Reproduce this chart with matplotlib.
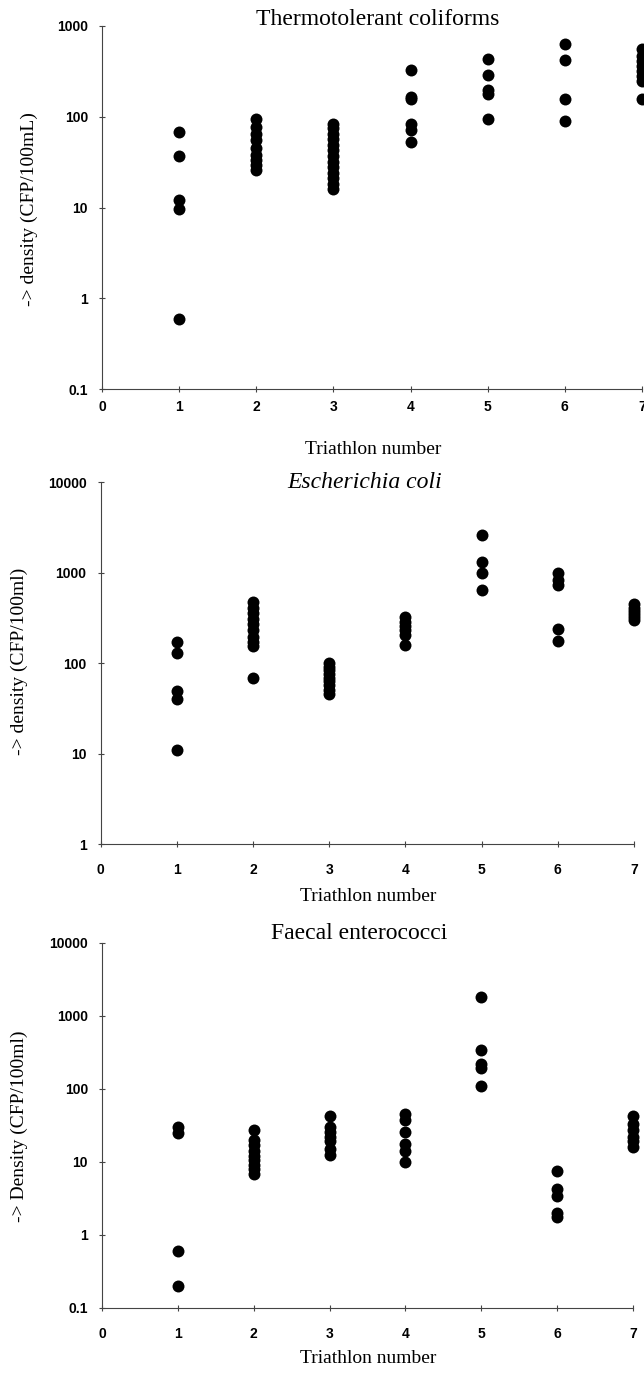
import matplotlib
matplotlib.use("Agg")
import matplotlib.pyplot as plt
from matplotlib.ticker import NullLocator

# ---------------- data ----------------
triathlon = [1, 2, 3, 4, 5, 6, 7]
x_ticks = [0, 1, 2, 3, 4, 5, 6, 7]

# Thermotolerant coliforms (CFP/100mL), one list per triathlon
thermo = [
    [67, 37, 12, 9.6, 0.6],
    [95, 77, 65, 55, 45, 38, 33, 29, 26],
    [83, 74, 64, 56, 49, 43, 37, 32, 28, 24, 21, 18, 16],
    [323, 166, 155, 83, 71, 53],
    [427, 289, 196, 177, 95],
    [634, 419, 155, 89],
    [553, 470, 410, 360, 320, 280, 245, 156],
]
# Escherichia coli (CFP/100ml)
ecoli = [
    [170, 129, 49, 40, 11],
    [470, 410, 360, 310, 270, 230, 195, 170, 153, 68],
    [100, 91, 83, 76, 69, 63, 57, 51, 46],
    [320, 285, 255, 230, 205, 160],
    [2620, 1330, 1000, 650],
    [990, 840, 740, 238, 177],
    [450, 410, 380, 350, 320, 300],
]
# Faecal enterococci (CFP/100ml)
entero = [
    [30, 25, 0.6, 0.2],
    [27, 20, 17, 14, 12, 10.5, 9, 8, 6.8],
    [42, 30, 26, 22, 19, 15, 12.5],
    [45, 38, 26, 17.5, 14, 10],
    [1800, 336, 220, 194, 110],
    [7.5, 4.2, 3.4, 2.0, 1.75],
    [43, 33, 27, 22, 19, 16],
]

yt_thermo = [0.1, 1, 10, 100, 1000]
yl_thermo = ["0.1", "1", "10", "100", "1000"]
yt_ecoli = [1, 10, 100, 1000, 10000]
yl_ecoli = ["1", "10", "100", "1000", "10000"]
yt_entero = [0.1, 1, 10, 100, 1000, 10000]
yl_entero = ["0.1", "1", "10", "100", "1000", "10000"]

titles = ["Thermotolerant coliforms", "Escherichia coli", "Faecal enterococci"]
ylabels = ["-> density (CFP/100mL)", "-> density (CFP/100ml)", "-> Density (CFP/100ml)"]
xlabel = "Triathlon number"

# ---------------- layout (pixels) ----------------
W, H = 644, 1373
fig = plt.figure(figsize=(W / 100, H / 100), dpi=100)


def rect(l, r, t, b):
    return [l / W, 1 - b / H, (r - l) / W, (b - t) / H]


panels = [
    dict(data=thermo, yt=yt_thermo, yl=yl_thermo, box=(102, 642, 25.7, 389.3),
         title_xy=(378, 25), italic=False, ylab_xy=(29, 209), xlab_xy=(373, 454), xpad=5.5),
    dict(data=ecoli, yt=yt_ecoli, yl=yl_ecoli, box=(100.5, 634, 482.3, 844),
         title_xy=(365, 488), italic=True, ylab_xy=(19, 661), xlab_xy=(368, 901), xpad=11.5),
    dict(data=entero, yt=yt_entero, yl=yl_entero, box=(102, 633, 943, 1307.7),
         title_xy=(359, 939), italic=False, ylab_xy=(19, 1126), xlab_xy=(368, 1363), xpad=11.5),
]

tick_font = dict(family="Liberation Sans", weight="bold", size=10)
serif = "Liberation Serif"
spine_col = "#444444"

for i, p in enumerate(panels):
    l, r, t, b = p["box"]
    ax = fig.add_axes(rect(l, r, t, b))
    for x, vals in zip(triathlon, p["data"]):
        ax.plot([x] * len(vals), vals, "o", color="black", ms=8.6, mew=0,
                clip_on=False, zorder=3)
    ax.set_yscale("log")
    ax.set_ylim(p["yt"][0], p["yt"][-1])
    ax.set_xlim(0, 7)
    ax.set_yticks(p["yt"])
    ax.set_yticklabels(p["yl"])
    ax.yaxis.set_minor_locator(NullLocator())
    ax.set_xticks(x_ticks)
    ax.set_xticklabels([str(v) for v in x_ticks])
    for s in ("top", "right"):
        ax.spines[s].set_visible(False)
    for s in ("left", "bottom"):
        ax.spines[s].set_color(spine_col)
        ax.spines[s].set_linewidth(0.8)
    ax.tick_params(axis="both", direction="inout", length=5, width=0.8, color=spine_col)
    ax.tick_params(axis="y", pad=7.5)
    ax.tick_params(axis="x", pad=p["xpad"])
    for lab in ax.get_xticklabels() + ax.get_yticklabels():
        lab.set_fontfamily(tick_font["family"])
        lab.set_fontweight(tick_font["weight"])
        lab.set_fontsize(tick_font["size"])
    ax.patch.set_alpha(0)

    tx, ty = p["title_xy"]
    fig.text(tx / W, 1 - ty / H, titles[i], ha="center", va="baseline",
             fontsize=17, family=serif, style="italic" if p["italic"] else "normal")
    yx, yy = p["ylab_xy"]
    fig.text(yx / W, 1 - yy / H, ylabels[i], ha="center", va="center",
             rotation=90, fontsize=14, family=serif)
    xx, xy = p["xlab_xy"]
    fig.text(xx / W, 1 - xy / H, xlabel, ha="center", va="baseline",
             fontsize=14, family=serif)

fig.savefig("out.png", dpi=100)
